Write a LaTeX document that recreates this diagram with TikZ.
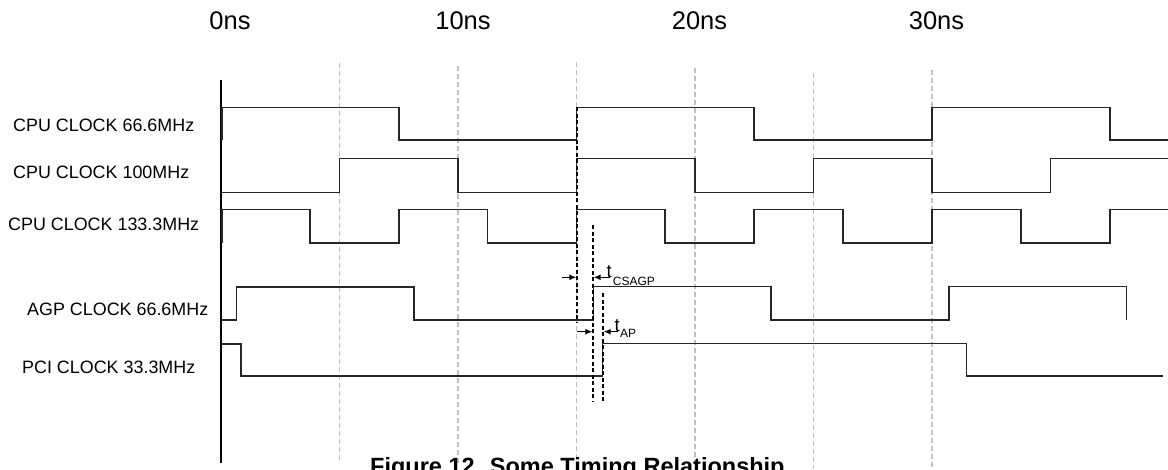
\documentclass[tikz,border=0pt]{standalone}
\usepackage{fontspec}
\setmainfont{Liberation Sans}
\usetikzlibrary{arrows.meta}
\begin{document}
\begin{tikzpicture}[x=1pt,y=-1pt,
  sig/.style={draw=black!85,line width=1.2pt},
  gridln/.style={draw=black!25,line width=1.3pt,dash pattern=on 5pt off 3pt},
  marker/.style={draw=black,line width=1.4pt,dash pattern=on 4pt off 2.5pt},
  arw/.style={draw=black,line width=1.1pt,-{Latex[length=7pt,width=6pt]}},
  lbl/.style={anchor=base west,inner sep=0pt,font=\fontsize{17.9}{20}\selectfont},
  tlbl/.style={anchor=base,inner sep=0pt,font=\fontsize{25.5}{28}\selectfont},
  tsym/.style={anchor=base west,inner sep=0pt,font=\fontsize{18.5}{20}\selectfont},
  tsub/.style={anchor=base west,inner sep=0pt,font=\fontsize{12}{13}\selectfont}]
\useasboundingbox[fill=white] (0,0) rectangle (1168,469);

% time labels
\node[tlbl] (t0)  at (230,29)   {0ns};
\node[tlbl] (t10) at (463,29)   {10ns};
\node[tlbl] (t20) at (699.5,29) {20ns};
\node[tlbl] (t30) at (936.5,29) {30ns};

% grid lines
\draw[gridln] (339.5,63) -- (339.5,463);
\draw[gridln] (458,66) -- (458,466);
\draw[gridln] (576.5,62) -- (576.5,469);
\draw[gridln] (695,68) -- (695,469);
\draw[gridln] (813.5,73) -- (813.5,469);
\draw[gridln] (932,70) -- (932,469);

% axis
\draw[line width=1.5pt] (221,80) -- (221,463);

% signal labels
\node[lbl] (l1) at (13,131.7) {CPU CLOCK 66.6MHz};
\node[lbl] (l2) at (13,178)   {CPU CLOCK 100MHz};
\node[lbl] (l3) at (8,230)    {CPU CLOCK 133.3MHz};
\node[lbl] (l4) at (27,315.7) {AGP CLOCK 66.6MHz};
\node[lbl] (l5) at (22,373)   {PCI CLOCK 33.3MHz};

% CPU 66.6
\draw[sig] (222,140) -- (222,107.3) -- (399,107.3) -- (399,140) -- (576.5,140) -- (576.5,107.3)
  -- (754,107.3) -- (754,140) -- (932,140) -- (932,107.3) -- (1110,107.3) -- (1110,140) -- (1168,140);
% CPU 100
\draw[sig] (222,192.3) -- (339.5,192.3) -- (339.5,158.3) -- (458,158.3) -- (458,192.3) -- (576.5,192.3)
  -- (576.5,158.3) -- (695,158.3) -- (695,192.3) -- (813.5,192.3) -- (813.5,158.3) -- (932,158.3)
  -- (932,192.3) -- (1050.5,192.3) -- (1050.5,158.3) -- (1168,158.3);
% CPU 133.3
\draw[sig] (222,243) -- (222,209.3) -- (310,209.3) -- (310,243) -- (399,243) -- (399,209.3)
  -- (487.6,209.3) -- (487.6,243) -- (576.5,243) -- (576.5,209.3) -- (665,209.3) -- (665,243)
  -- (754,243) -- (754,209.3) -- (843,209.3) -- (843,243) -- (932,243) -- (932,209.3)
  -- (1021,209.3) -- (1021,243) -- (1110,243) -- (1110,209.3) -- (1168,209.3);
% AGP 66.6
\draw[sig] (221,320) -- (236.3,320) -- (236.3,287) -- (414,287) -- (414,320) -- (593.3,320)
  -- (593.3,286.5) -- (771,286.5) -- (771,320) -- (949,320) -- (949,286.5) -- (1126.5,286.5) -- (1126.5,320);
% PCI 33.3
\draw[sig] (221,344) -- (241,344) -- (241,376) -- (602.7,376) -- (602.7,343.5) -- (966.7,343.5)
  -- (966.7,376) -- (1163,376);

% timing markers
\coordinate (mAt) at (577,107);  \coordinate (mAb) at (577,323);
\coordinate (mBt) at (593,225);  \coordinate (mBb) at (593,402);
\coordinate (mCt) at (603,293);  \coordinate (mCb) at (603,402);
\draw[marker] (mAt) -- (mAb);
\draw[marker] (mBt) -- (mBb);
\draw[marker] (mCt) -- (mCb);

% arrows
\coordinate (a1s) at (561.7,277.3); \coordinate (a1e) at (576.3,277.3);
\coordinate (a2s) at (610,277.3);   \coordinate (a2e) at (593.7,277.3);
\coordinate (a3s) at (576.7,331.7); \coordinate (a3e) at (592.3,331.7);
\coordinate (a4s) at (618,331.7);   \coordinate (a4e) at (603.7,331.7);
\draw[arw] (a1s) -- (a1e);
\draw[arw] (a2s) -- (a2e);
\draw[arw] (a3s) -- (a3e);
\draw[arw] (a4s) -- (a4e);

% timing labels
\node[tsym] (tc) at (606.5,277) {t};
\node[tsub] (tcs) at (612.7,285) {CSAGP};
\node[tsym] (ta) at (614.5,331) {t};
\node[tsub] (tas) at (620,337.5) {AP};

% caption (cut by the frame, as in the reference)
\node[anchor=base west,inner sep=0pt,font=\bfseries\fontsize{23.5}{28}\selectfont] (cap) at (370,474.5)
  {Figure 12. Some Timing Relationship};
\end{tikzpicture}
\end{document}
